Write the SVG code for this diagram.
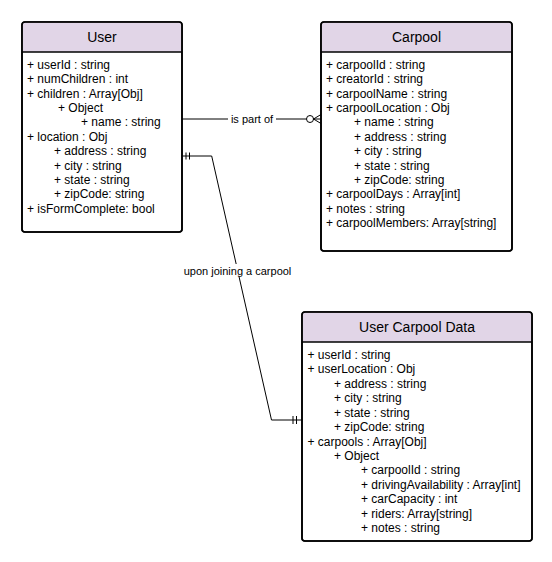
<svg xmlns="http://www.w3.org/2000/svg" width="552" height="562" viewBox="0 0 552 562">
<style>
.box{fill:#ffffff;stroke:#000000;stroke-width:1.6}
.hdr{fill:#e1d5e7;stroke:none}
.div{stroke:#000000;stroke-width:1.6}
.t{font-family:"Liberation Sans",Arial,sans-serif;font-size:12px;fill:#000000}
.title{font-family:"Liberation Sans",Arial,sans-serif;font-size:14px;fill:#000000;text-anchor:middle}
.lbl{font-family:"Liberation Sans",Arial,sans-serif;font-size:11px;fill:#000000;text-anchor:middle}
.ln{fill:none;stroke:#000000;stroke-width:1}
</style>
<rect width="552" height="562" fill="#ffffff"/>
<g id="connectors">
  <path class="ln" d="M182 119 H314"/>
  <circle cx="310" cy="119" r="3.5" fill="#ffffff" stroke="#000000" stroke-width="1"/>
  <path class="ln" d="M313.5 119 L321 114.5 M313.5 119 L321 119 M313.5 119 L321 123.5"/>
  <rect x="228" y="112" width="48" height="14" fill="#ffffff"/>
  <text class="lbl" x="252" y="123">is part of</text>
  <path class="ln" d="M182 156 H211.7 L271.5 420 H302"/>
  <path class="ln" d="M186 152.5 V159.5 M189.5 152.5 V159.5"/>
  <path class="ln" d="M293 416 V424 M296.5 416 V424"/>
  <rect x="183" y="264" width="108" height="13" fill="#ffffff"/>
  <text class="lbl" x="237.5" y="275">upon joining a carpool</text>
</g>
<g id="user">
  <rect class="box" x="22" y="22" width="160" height="210" rx="3"/>
  <path class="hdr" d="M25 22.8 H179 A2.2 2.2 0 0 1 181.2 25 V52 H22.8 V25 A2.2 2.2 0 0 1 25 22.8 Z"/>
  <rect x="22" y="22" width="160" height="210" rx="3" fill="none" stroke="#000" stroke-width="1.6"/>
  <line class="div" x1="22" y1="52" x2="182" y2="52"/>
  <text class="title" x="102" y="42">User</text>
  <text class="t" x="27" y="68.8">+ userId : string</text>
  <text class="t" x="27" y="83.2">+ numChildren : int</text>
  <text class="t" x="27" y="97.6">+ children : Array[Obj]</text>
  <text class="t" x="58" y="112">+ Object</text>
  <text class="t" x="81" y="126.4">+ name : string</text>
  <text class="t" x="27" y="140.8">+ location : Obj</text>
  <text class="t" x="54" y="155.2">+ address : string</text>
  <text class="t" x="54" y="169.6">+ city : string</text>
  <text class="t" x="54" y="184">+ state : string</text>
  <text class="t" x="54" y="198.4">+ zipCode: string</text>
  <text class="t" x="27" y="212.8">+ isFormComplete: bool</text>
</g>
<g id="carpool">
  <rect class="box" x="321" y="22" width="191" height="229" rx="3"/>
  <path class="hdr" d="M324 22.8 H509 A2.2 2.2 0 0 1 511.2 25 V52 H321.8 V25 A2.2 2.2 0 0 1 324 22.8 Z"/>
  <rect x="321" y="22" width="191" height="229" rx="3" fill="none" stroke="#000" stroke-width="1.6"/>
  <line class="div" x1="321" y1="52" x2="512" y2="52"/>
  <text class="title" x="416.5" y="42">Carpool</text>
  <text class="t" x="326" y="68.8">+ carpoolId : string</text>
  <text class="t" x="326" y="83.2">+ creatorId : string</text>
  <text class="t" x="326" y="97.6">+ carpoolName : string</text>
  <text class="t" x="326" y="112">+ carpoolLocation : Obj</text>
  <text class="t" x="354" y="126.4">+ name : string</text>
  <text class="t" x="354" y="140.8">+ address : string</text>
  <text class="t" x="354" y="155.2">+ city : string</text>
  <text class="t" x="354" y="169.6">+ state : string</text>
  <text class="t" x="354" y="184">+ zipCode: string</text>
  <text class="t" x="326" y="198.4">+ carpoolDays : Array[int]</text>
  <text class="t" x="326" y="212.8">+ notes : string</text>
  <text class="t" x="326" y="227.2">+ carpoolMembers: Array[string]</text>
</g>
<g id="user-carpool-data">
  <rect class="box" x="302" y="312" width="230" height="229" rx="3"/>
  <path class="hdr" d="M305 312.8 H529 A2.2 2.2 0 0 1 531.2 315 V342 H302.8 V315 A2.2 2.2 0 0 1 305 312.8 Z"/>
  <rect x="302" y="312" width="230" height="229" rx="3" fill="none" stroke="#000" stroke-width="1.6"/>
  <line class="div" x1="302" y1="342" x2="532" y2="342"/>
  <text class="title" x="417" y="332">User Carpool Data</text>
  <text class="t" x="307.5" y="358.8">+ userId : string</text>
  <text class="t" x="307.5" y="373.25">+ userLocation : Obj</text>
  <text class="t" x="334" y="387.7">+ address : string</text>
  <text class="t" x="334" y="402.15">+ city : string</text>
  <text class="t" x="334" y="416.6">+ state : string</text>
  <text class="t" x="334" y="431.05">+ zipCode: string</text>
  <text class="t" x="307.5" y="445.5">+ carpools : Array[Obj]</text>
  <text class="t" x="334" y="459.95">+ Object</text>
  <text class="t" x="361" y="474.4">+ carpoolId : string</text>
  <text class="t" x="361" y="488.85">+ drivingAvailability : Array[int]</text>
  <text class="t" x="361" y="503.3">+ carCapacity : int</text>
  <text class="t" x="361" y="517.75">+ riders: Array[string]</text>
  <text class="t" x="361" y="532.2">+ notes : string</text>
</g>
</svg>
